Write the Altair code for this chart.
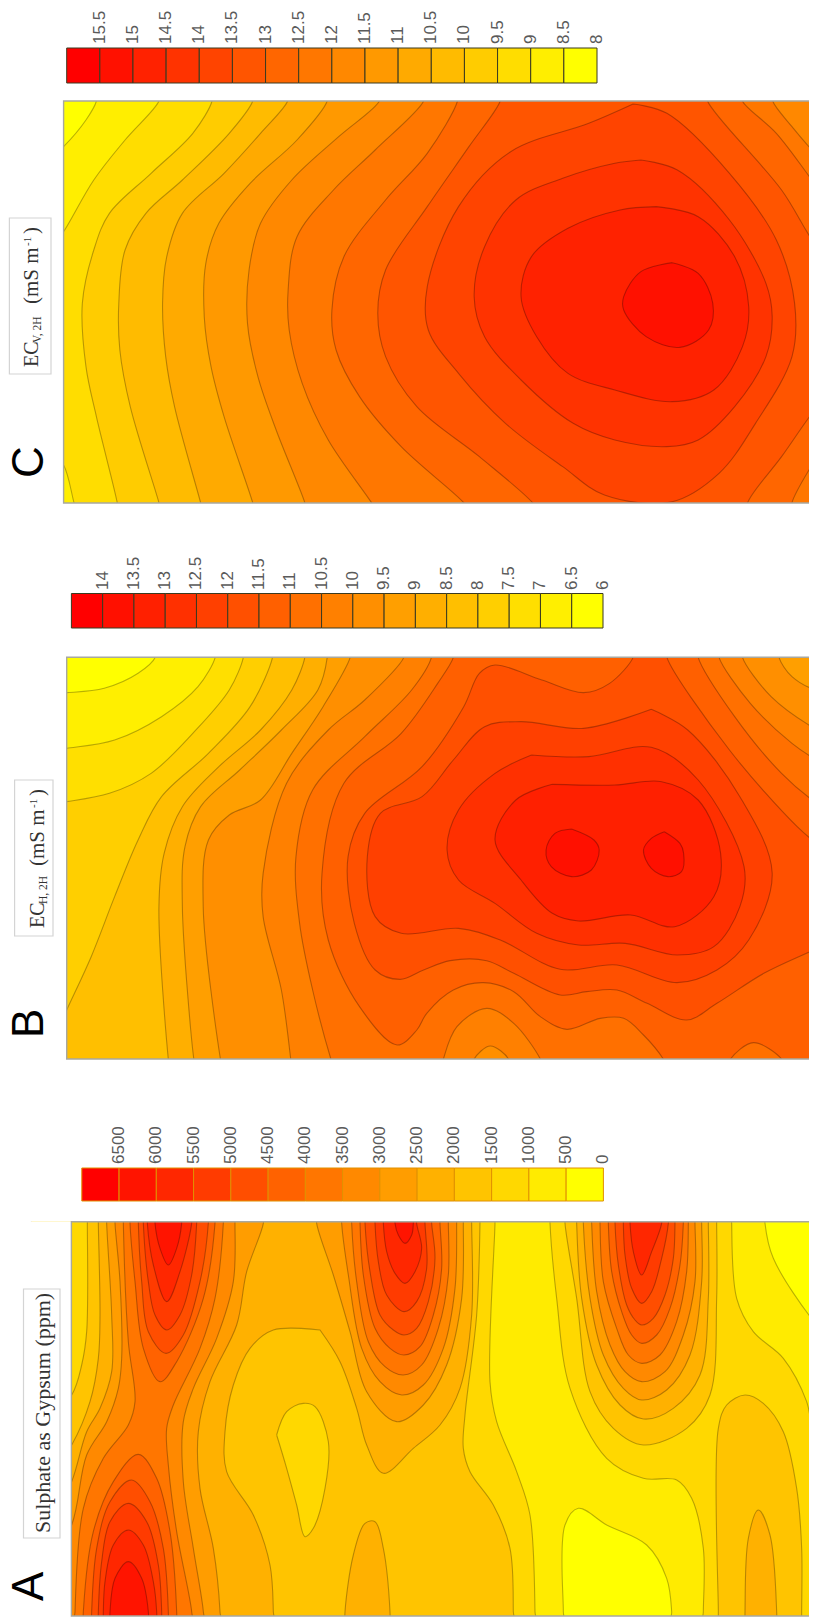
import altair as alt
import pandas as pd

# ---------- colour-bar labels ----------
C_LABELS = ["15.5","15","14.5","14","13.5","13","12.5","12","11.5","11","10.5","10","9.5","9","8.5","8"]
B_LABELS = ["14","13.5","13","12.5","12","11.5","11","10.5","10","9.5","9","8.5","8","7.5","7","6.5","6"]
A_LABELS = ["6500","6000","5500","5000","4500","4000","3500","3000","2500","2000","1500","1000","500","0"]

# ---------- contour outlines, each in the crop frame it was read in ----------
# Panel C (level index counted up from the lightest band)
C_N1 = [(185,10),(185,33),(165,90),(122,170),(100,200),(100,1270),(1650,1270),(1650,10)]
C_N2 = [(305,10),(305,33),(240,150),(180,270),(122,425),(100,470),(100,1090),(122,1125),(142,1238),(148,1270),(1650,1270),(1650,10)]
C_N3 = [(407,10),(407,33),(370,130),(290,250),(210,370),(180,480),(158,640),(165,830),(185,980),(225,1238),(228,1270),(1650,1270),(1650,10)]
C_N4 = [(485,10),(485,33),(440,130),(350,270),(280,370),(240,480),(228,640),(230,780),(250,950),(305,1238),(310,1270),(1650,1270),(1650,10)]
C_N5 = [(552,10),(552,33),(500,130),(430,250),(350,370),(320,500),(312,640),(318,800),(335,950),(385,1238),(390,1270),(1650,1270),(1650,10)]
C_N6 = [(628,10),(628,33),(570,150),(480,280),(420,400),(395,520),(392,680),(405,830),(430,980),(485,1238),(490,1270),(1650,1270),(1650,10)]
C_N7 = [(728,10),(728,33),(650,140),(560,270),(500,400),(478,540),(475,700),(495,860),(530,1020),(585,1238),(590,1270),(1650,1270),(1650,10)]
C_N8 = [(813,10),(813,33),(720,180),(640,300),(570,440),(553,600),(555,720),(580,880),(630,1050),(713,1238),(725,1270),(1650,1270),(1650,300),(1568,195),(1520,110),(1483,33),(1483,10)]
C_N9 = [(878,10),(878,33),(820,190),(740,330),(660,500),(637,660),(645,780),(690,920),(770,1070),(890,1238),(905,1270),(1520,1270),(1520,1238),(1568,1100),(1650,900),(1650,450),(1568,290),(1490,130),(1425,33),(1425,10)]
C_N10 = [(960,10),(960,33),(900,170),(820,350),(740,540),(725,670),(740,800),(800,950),(920,1100),(1022,1238),(1035,1270),(1435,1270),(1435,1238),(1500,1100),(1568,950),(1650,800),(1650,600),(1568,470),(1500,300),(1358,33),(1358,10)]
C_N11 = [(1215,42),(1280,70),(1400,250),(1490,450),(1525,640),(1520,800),(1450,1000),(1380,1150),(1290,1235),(1160,1215),(1080,1130),(970,1000),(880,850),(822,720),(820,590),(880,350),(980,185),(1130,100)]
C_N12 = [(1230,210),(1300,240),(1400,390),(1470,580),(1482,680),(1470,800),(1410,950),(1340,1050),(1280,1070),(1180,1050),(1100,1000),(1000,870),(930,740),(910,620),(930,470),(990,330),(1080,265),(1180,220)]
C_N13 = [(1260,350),(1340,380),(1410,500),(1437,650),(1425,770),(1370,900),(1290,935),(1180,900),(1090,850),(1030,740),(1000,620),(1020,500),(1090,415),(1190,360)]
C_N14 = [(1290,518),(1340,550),(1368,640),(1360,720),(1305,772),(1240,740),(1197,660),(1197,620),(1230,545)]

# Panel B
B_N1 = [(298,30),(298,52),(265,100),(200,145),(128,158),(105,160),(105,1280),(1650,1280),(1650,30)]
B_N2 = [(413,30),(413,52),(380,140),(310,230),(220,300),(128,325),(105,330),(105,1280),(1650,1280),(1650,30)]
B_N3 = [(467,30),(467,52),(440,150),(370,280),(290,400),(210,460),(128,485),(105,490),(105,1280),(1650,1280),(1650,30)]
B_N4 = [(523,30),(523,52),(480,200),(400,340),(310,470),(265,600),(220,770),(175,950),(128,1110),(105,1190),(105,1280),(1650,1280),(1650,30)]
B_N5 = [(585,30),(585,52),(560,150),(500,270),(420,380),(350,500),(315,640),(305,800),(323,1257),(325,1280),(1650,1280),(1650,30)]
B_N6 = [(628,30),(628,52),(610,150),(540,270),(460,390),(385,500),(355,620),(350,800),(372,1257),(375,1280),(1650,1280),(1650,30)]
B_N7 = [(672,30),(672,52),(620,200),(560,340),(500,480),(440,525),(400,600),(390,800),(423,1257),(426,1280),(1650,1280),(1650,150),(1568,150),(1520,110),(1495,52),(1495,30)]
B_N8 = [(775,30),(775,52),(700,180),(630,270),(550,430),(505,700),(505,830),(540,1050),(558,1257),(560,1280),(908,1280),(910,1257),(941,1218),(976,1257),(978,1280),(1650,1280),(1650,330),(1568,270),(1480,170),(1425,52),(1425,30)]
B_N9 = [(828,30),(828,52),(790,150),(700,290),(600,450),(568,650),(575,850),(600,1050),(635,1257),(640,1280),(848,1280),(851,1257),(877,1160),(934,1105),(986,1150),(1037,1257),(1042,1280),(1650,1280),(1650,420),(1568,360),(1520,310),(1440,190),(1380,52),(1380,30)]
B_N10 = [(870,30),(870,52),(840,130),(770,280),(660,430),(618,700),(630,900),(690,1100),(762,1215),(800,1170),(819,1120),(870,1050),(928,1028),(986,1055),(1037,1130),(1088,1168),(1152,1135),(1197,1135),(1235,1185),(1273,1257),(1280,1280),(1398,1280),(1402,1257),(1446,1208),(1500,1257),(1505,1280),(1650,1280),(1650,560),(1568,490),(1500,400),(1410,230),(1340,52),(1340,30)]
B_N11 = [(1215,30),(1215,52),(1170,130),(1120,158),(1040,120),(950,75),(920,100),(890,200),(810,380),(700,520),(668,650),(680,850),(720,990),(768,1018),(813,990),(864,962),(934,962),(986,1000),(1075,1065),(1126,1055),(1184,1050),(1242,1090),(1318,1140),(1376,1090),(1466,1000),(1568,925),(1650,860),(1650,680),(1568,610),(1530,560),(1400,330),(1280,52),(1280,30)]
B_N12 = [(1250,208),(1320,270),(1420,470),(1482,700),(1437,900),(1376,990),(1299,1028),(1184,975),(1075,988),(960,900),(880,865),(770,880),(720,830),(705,650),(730,520),(810,470),(870,360),(930,260),(1000,245),(1120,265)]
B_N13 = [(1020,345),(1130,350),(1250,322),(1340,420),(1428,680),(1420,800),(1370,920),(1300,945),(1200,910),(1110,915),(1030,880),(950,790),(880,720),(858,630),(880,510),(950,400)]
B_N14 = [(1060,433),(1180,435),(1270,425),(1340,480),(1383,640),(1370,770),(1295,860),(1210,825),(1110,843),(1060,820),(1000,720),(950,600),(990,480)]
B_N15A = [(1097,567),(1140,600),(1150,630),(1135,690),(1097,710),(1058,680),(1048,630),(1065,580)]
B_N15B = [(1275,575),(1305,610),(1312,640),(1308,695),(1282,710),(1250,685),(1235,630),(1250,595)]

AR_N1 = [(675,-10),(675,25),(700,130),(830,330),(900,400),(900,1230),(395,1230),(395,1190),(380,1090),(320,990),(200,930),(115,880),(75,930),(70,1190),(70,1230),(-800,1230),(-800,-10)]
AM_N2_A = [(585,-10),(585,25),(570,500),(590,620),(650,770),(690,900),(705,1190),(705,1230),(-800,1230),(-800,-10)]
AR_N2_B = [(30,-10),(30,25),(50,250),(90,520),(200,730),(310,790),(410,795),(455,850),(490,1000),(490,1190),(490,1230),(900,1230),(900,760),(830,700),(800,560),(730,430),(640,350),(590,250),(575,25),(575,-10)]
AL_N3_HEAD = [(82,-10),(82,25),(80,350),(65,450),(35,540),(-60,640),(-60,1230)]
AM_N3_TAIL = [(640,1230),(640,1190),(630,1000),(580,870),(510,770),(490,700),(495,600),(530,300),(540,25),(540,-10)]
AR_N3_ARC = [(75,-10),(75,25),(110,250),(150,530),(220,640),(310,690),(440,640),(510,540),(530,250),(530,25),(530,-10)]
AR_N3_BLOB = [(535,1230),(535,1190),(535,640),(560,570),(615,540),(670,565),(730,650),(770,820),(785,1000),(785,1190),(785,1230)]
AL_N2_HOLE_A = [(650,660),(680,590),(730,565)]
AM_N2_HOLE_B = [(45,575),(85,680),(75,820),(40,940),(15,965)]
AL_N2_HOLE_C = [(710,870),(680,760)]
AL_N4_HEAD = [(115,-10),(115,25),(120,300),(115,430),(90,560),(35,690),(-60,820),(-60,1230),(640,1230),(640,1190),(630,1050),(580,900),(500,770),(495,650),(520,510),(570,400),(640,345),(780,345)]
AM_N4_TAIL = [(60,345),(120,440),(170,580),(200,690),(250,775),(340,700),(420,630),(480,520),(515,300),(515,25),(515,-10)]
AM_N4_HUMP = [(135,1230),(135,1190),(160,1020),(195,925),(225,920),(250,1000),(270,1190),(270,1230)]
AR_N4_HUMP = [(615,1230),(615,1190),(625,970),(655,885),(690,960),(710,1190),(710,1230)]
AR_N4_ARC = [(110,25),(125,250),(170,450),(240,570),(310,612),(400,580),(480,480),(505,250),(505,25)]
AL_N5 = [(140,-10),(140,25),(155,300),(155,470),(120,580),(80,650),(35,800),(-60,1000),(-60,1230),(480,1230),(480,1190),(460,1000),(420,820),(415,650),(450,500),(530,330),(560,170),(610,25),(610,-10)]
AM_N5_ARC = [(50,25),(100,180),(150,350),(200,530),(290,620),(370,570),(440,450),(485,250),(490,25)]
AR_N5_ARC = [(130,25),(150,250),(190,420),(250,520),(305,555),(380,525),(450,420),(485,200),(485,25)]
AL_N6 = [(165,-10),(165,25),(180,200),(185,430),(175,520),(140,620),(80,720),(35,930),(-60,1100),(-60,1230),(430,1230),(430,1190),(400,1000),(370,800),(370,620),(400,520),(470,370),(520,200),(525,25),(525,-10)]
AM_N6_ARC = [(125,25),(145,180),(185,400),(240,500),(305,540),(370,510),(430,400),(465,220),(470,25)]
AR_N6_ARC = [(155,25),(170,230),(210,390),(255,470),(305,500),(375,470),(430,360),(465,200),(465,25)]
AL_N7 = [(190,-10),(190,25),(205,380),(225,560),(205,630),(130,730),(70,880),(45,1190),(45,1230),(395,1230),(395,1190),(350,950),(325,750),(320,640),(340,570),(420,400),(465,250),(490,25),(490,-10)]
AM_N7_ARC = [(155,25),(170,200),(205,380),(255,455),(310,480),(365,450),(415,340),(445,180),(445,25)]
AR_N7_ARC = [(180,25),(190,200),(230,340),(265,420),(305,445),(360,420),(410,320),(440,170),(445,25)]
AL_N8_TOP = [(210,25),(225,200),(250,400),(300,500),(350,440),(430,250),(465,25)]
AL_N9_TOP = [(235,25),(245,200),(265,350),(318,415),(370,360),(420,200),(445,25)]
AL_N10_TOP = [(250,25),(265,200),(285,300),(320,345),(360,300),(395,180),(410,25)]
AL_N11_TOP = [(262,25),(280,150),(320,260),(360,170),(395,25)]
AL_N12_TOP = [(285,25),(300,100),(325,150),(350,100),(365,25)]
AL_N8_LOW = [(70,1190),(100,950),(160,800),(235,718),(290,790),(330,950),(350,1190)]
AL_N9_LOW = [(95,1190),(110,1000),(150,860),(215,795),(270,860),(310,1000),(325,1190)]
AL_N10_LOW = [(115,1190),(125,1040),(150,920),(205,865),(260,920),(295,1050),(305,1190)]
AL_N11_LOW = [(130,1190),(135,1100),(160,990),(205,945),(250,990),(280,1100),(290,1190)]
AL_N12_LOW = [(150,1190),(165,1090),(205,1040),(245,1090),(265,1190)]
AM_N8_ARC = [(180,25),(190,180),(225,340),(270,400),(312,420),(360,395),(400,300),(425,160),(420,25)]
AM_N9_ARC = [(195,25),(210,170),(240,300),(280,345),(312,360),(350,340),(385,260),(405,130),(395,25)]
AM_N10_ARC = [(225,25),(235,140),(260,240),(312,290),(350,260),(380,160),(375,25)]
AM_N11_ARC = [(250,25),(260,110),(285,175),(315,205),(345,170),(365,100),(350,25)]
AM_N12_ARC = [(285,25),(295,60),(315,85),(335,60),(340,25)]
AR_N8_ARC = [(205,25),(215,170),(245,290),(275,360),(305,385),(350,360),(390,280),(420,150),(430,25)]
AR_N9_ARC = [(225,25),(235,150),(260,270),(285,315),(305,330),(340,310),(375,240),(400,130),(405,25)]
AR_N10_ARC = [(250,25),(255,120),(275,220),(305,265),(335,230),(365,130),(385,25)]
AR_N11_ARC = [(270,25),(280,110),(305,180),(335,110),(365,25)]

# ---------- sheet geometry (reference pixels); the page lets the plot fill 801 px of width ----------
SHEET_X = (8, 809)
SHEET_Y = (8, 1619)
C_BOX = (63.6, 101, 817, 503)
B_BOX = (66.7, 657.3, 817, 1059)
A_BOX = (71.4, 1221.7, 817, 1616)
FX = 817 / 1568

def c_xy(pts): return [(x * FX, 90 + y / 3) for x, y in pts]
def b_xy(pts): return [(x * FX, 640 + y / 3) for x, y in pts]
def al(pts): return [(60 + x / 3, 1215 + y / 3) for x, y in pts]
def am(pts): return [(300 + x / 3, 1215 + y / 3) for x, y in pts]
def ar(pts): return [(540 + x / 3, 1215 + y / 3) for x, y in pts]
def up(pts): return [(pts[0][0], -10)] + pts + [(pts[-1][0], -10)]
def down(pts): return [(pts[0][0], 1230)] + pts + [(pts[-1][0], 1230)]

def col(n, steps):
    return "#ff%02x00" % round(255 - 255 * n / steps)

polys = []
def add(pts, n, steps, closed=False):
    polys.append((pts + [pts[0]] if closed else pts, col(n, steps)))

for n, p in enumerate([C_N1,C_N2,C_N3,C_N4,C_N5,C_N6,C_N7,C_N8,C_N9,C_N10], 1):
    add(c_xy(p), n, 15)
for n, p in zip([11,12,13,14], [C_N11,C_N12,C_N13,C_N14]):
    add(c_xy(p), n, 15, True)

for n, p in enumerate([B_N1,B_N2,B_N3,B_N4,B_N5,B_N6,B_N7,B_N8,B_N9,B_N10,B_N11], 1):
    add(b_xy(p), n, 16)
for n, p in zip([12,13,14,15,15], [B_N12,B_N13,B_N14,B_N15A,B_N15B]):
    add(b_xy(p), n, 16, True)

S = 13
add(ar(AR_N1), 1, S)
add(am(AM_N2_A), 2, S)
add(ar(AR_N2_B), 2, S)
add(al(AL_N3_HEAD) + am(AM_N3_TAIL), 3, S)
add(al(AL_N2_HOLE_A) + am(AM_N2_HOLE_B) + al(AL_N2_HOLE_C), 2, S, True)
add(ar(AR_N3_ARC), 3, S)
add(ar(AR_N3_BLOB), 3, S)
add(al(AL_N4_HEAD) + am(AM_N4_TAIL), 4, S)
add(am(AM_N4_HUMP), 4, S)
add(ar(AR_N4_HUMP), 4, S)
add(ar(up(AR_N4_ARC)), 4, S)
add(al(AL_N5), 5, S); add(am(up(AM_N5_ARC)), 5, S); add(ar(up(AR_N5_ARC)), 5, S)
add(al(AL_N6), 6, S); add(am(up(AM_N6_ARC)), 6, S); add(ar(up(AR_N6_ARC)), 6, S)
add(al(AL_N7), 7, S); add(am(up(AM_N7_ARC)), 7, S); add(ar(up(AR_N7_ARC)), 7, S)
for n, t, l, m, r in [(8,AL_N8_TOP,AL_N8_LOW,AM_N8_ARC,AR_N8_ARC),(9,AL_N9_TOP,AL_N9_LOW,AM_N9_ARC,AR_N9_ARC),
                      (10,AL_N10_TOP,AL_N10_LOW,AM_N10_ARC,AR_N10_ARC),(11,AL_N11_TOP,AL_N11_LOW,AM_N11_ARC,AR_N11_ARC)]:
    add(al(up(t)), n, S); add(al(down(l)), n, S); add(am(up(m)), n, S); add(ar(up(r)), n, S)
add(al(up(AL_N12_TOP)), 12, S); add(al(down(AL_N12_LOW)), 12, S); add(am(up(AM_N12_ARC)), 12, S)

rows = []
for k, (pts, c) in enumerate(polys):
    for i, (x, y) in enumerate(pts):
        rows.append({"poly": f"p{k:03d}", "i": i, "x": x, "y": y, "fill": c})
poly_df = pd.DataFrame(rows)

X = alt.X("x:Q", scale=alt.Scale(domain=list(SHEET_X)), axis=None)
Y = alt.Y("y:Q", scale=alt.Scale(domain=[SHEET_Y[1], SHEET_Y[0]]), axis=None)
X2 = alt.X2("x2:Q")
Y2 = alt.Y2("y2:Q")

def boxes(rows_):
    return pd.DataFrame(rows_, columns=["x", "y", "x2", "y2"])

base = alt.Chart(pd.DataFrame([
    {"x": C_BOX[0], "y": C_BOX[1], "x2": C_BOX[2], "y2": C_BOX[3]},
    {"x": B_BOX[0], "y": B_BOX[1], "x2": B_BOX[2], "y2": B_BOX[3]},
    {"x": A_BOX[0], "y": A_BOX[1], "x2": A_BOX[2], "y2": A_BOX[3]},
])).mark_rect(color="#ffff00", clip=True).encode(x=X, y=Y, x2=X2, y2=Y2)

contours = alt.Chart(poly_df).mark_line(
    interpolate="catmull-rom", stroke="#000000", strokeOpacity=0.28, strokeWidth=1.1, fillOpacity=1, clip=True
).encode(x=X, y=Y, detail="poly:N", order="i:Q", fill=alt.Fill("fill:N", scale=None, legend=None))

masks = alt.Chart(boxes([
    (8, 8, 817, C_BOX[1]), (8, C_BOX[1], C_BOX[0], C_BOX[3]),
    (8, C_BOX[3], 817, B_BOX[1]), (8, B_BOX[1], B_BOX[0], B_BOX[3]),
    (8, B_BOX[3], 817, A_BOX[1]), (8, A_BOX[1], A_BOX[0], A_BOX[3]),
    (8, A_BOX[3], 817, 1619),
])).mark_rect(color="#ffffff", clip=True).encode(x=X, y=Y, x2=X2, y2=Y2)

frames = alt.Chart(pd.DataFrame([
    {"x": C_BOX[0], "y": C_BOX[1], "x2": 830, "y2": C_BOX[3]},
    {"x": B_BOX[0], "y": B_BOX[1], "x2": 830, "y2": B_BOX[3]},
    {"x": A_BOX[0], "y": A_BOX[1], "x2": 830, "y2": A_BOX[3]},
])).mark_rect(fill=None, stroke="#a8a8a0", strokeWidth=1.4, clip=True).encode(x=X, y=Y, x2=X2, y2=Y2)

def bar(labels, x0, x1, y0, y1, stroke, ly):
    n = len(labels)
    w = (x1 - x0) / n
    cells = pd.DataFrame([{"x": x0 + i * w, "x2": x0 + (i + 1) * w, "y": y0, "y2": y1,
                           "fill": col(n - 1 - i, n - 1)} for i in range(n)])
    r = alt.Chart(cells).mark_rect(stroke=stroke, strokeWidth=1).encode(
        x=X, y=Y, x2=X2, y2=Y2, fill=alt.Fill("fill:N", scale=None, legend=None))
    t = pd.DataFrame([{"x": x0 + (i + 1) * w, "y": ly, "t": s} for i, s in enumerate(labels)])
    txt = alt.Chart(t).mark_text(angle=270, align="left", baseline="middle", font="Liberation Sans",
                                 fontSize=17, color="#5a5a5a", clip=True).encode(x=X, y=Y, text="t:N")
    return r + txt

bar_c = bar(C_LABELS, 66.7, 597, 48, 83, "#3a3a20", 44)
bar_b = bar(B_LABELS, 71.4, 603, 593.5, 628, "#3a3a20", 590)
bar_a = bar(A_LABELS, 81.8, 603.4, 1168, 1201, "#e09000", 1164)

title_boxes = alt.Chart(boxes([(9.4, 218, 51, 374), (14.6, 780, 53, 936), (23.5, 1289, 60, 1538)])).mark_rect(
    fill="#ffffff", stroke="#d4d4d4", strokeWidth=1.2).encode(x=X, y=Y, x2=X2, y2=Y2)

def rot(rows_, font, color="#333333"):
    df = pd.DataFrame(rows_, columns=["x", "y", "t", "s"])
    return alt.Chart(df).mark_text(angle=270, align="left", baseline="alphabetic", font=font, color=color).encode(
        x=X, y=Y, text="t:N", size=alt.Size("s:Q", scale=None, legend=None))

letters = rot([(43, 478, "C", 44), (43, 1038, "B", 44), (43, 1601, "A", 44)], "Liberation Sans", "#000000")
titles = rot([
    (38, 367, "EC", 20), (41, 343, "V, 2H", 11.5), (38, 304, "(mS m", 21), (31, 246, "-1", 11), (38, 234, ")", 21),
    (44, 928, "EC", 20), (47, 904, "H, 2H", 11.5), (44, 866, "(mS m", 21), (37, 808, "-1", 11), (44, 796, ")", 21),
    (50, 1533, "Sulphate as Gypsum (ppm)", 22),
], "Liberation Serif")

chart = alt.layer(base, contours, masks, frames, bar_c, bar_b, bar_a, title_boxes, letters, titles).properties(
    width=SHEET_X[1] - SHEET_X[0], height=SHEET_Y[1] - SHEET_Y[0], padding=0, background="#ffffff",
    autosize=alt.AutoSizeParams(type="none")
).configure_view(stroke=None)

chart.save("out.html", embed_options={"renderer": "svg", "actions": False})
